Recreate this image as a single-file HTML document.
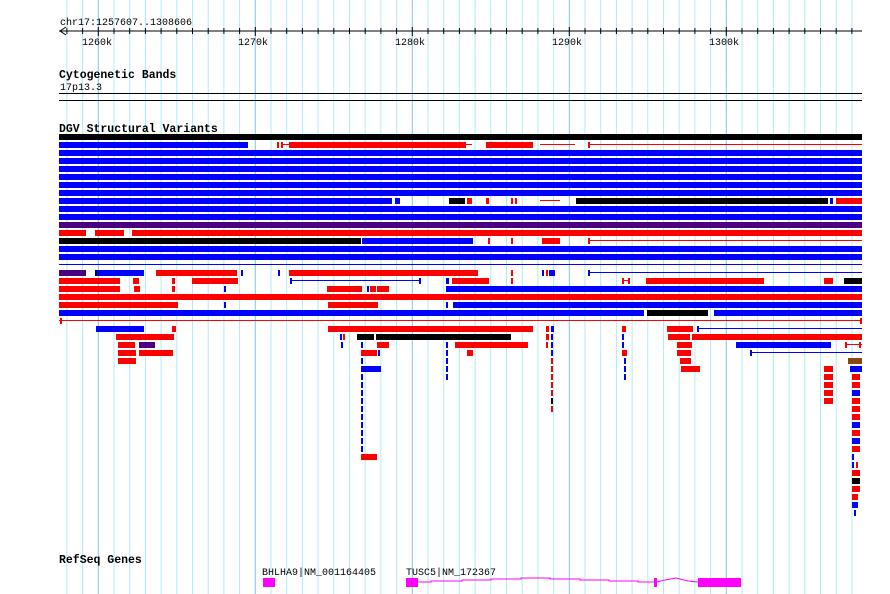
<!DOCTYPE html>
<html><head><meta charset="utf-8"><style>
html,body{margin:0;padding:0;background:#fff;width:890px;height:594px;overflow:hidden}
svg text{font-family:"Liberation Mono",monospace;fill:#000}
</style></head><body>
<svg id="s" width="890" height="594" xmlns="http://www.w3.org/2000/svg">
<g id="grid"></g>
<text x="60" y="25" font-size="10">chr17:1257607..1308606</text>
<line x1="59" y1="31" x2="862" y2="31" stroke="#000"/>
<polyline points="66,27 60,31 66,35" fill="none" stroke="#000"/>
<g id="ticks"></g>
<text x="82" y="45" font-size="10">1260k</text>
<text x="238" y="45" font-size="10">1270k</text>
<text x="395" y="45" font-size="10">1280k</text>
<text x="552" y="45" font-size="10">1290k</text>
<text x="709" y="45" font-size="10">1300k</text>
<text x="59" y="78" font-size="11.5" font-weight="bold">Cytogenetic Bands</text>
<text x="60" y="90" font-size="10">17p13.3</text>
<line x1="59" y1="93.5" x2="862" y2="93.5" stroke="#000"/>
<line x1="59" y1="100.5" x2="862" y2="100.5" stroke="#000"/>
<text x="59" y="132" font-size="11.5" font-weight="bold">DGV Structural Variants</text>
<g id="rows"></g>
<text x="59" y="563" font-size="11.5" font-weight="bold">RefSeq Genes</text>
<text x="262" y="575" font-size="10">BHLHA9|NM_001164405</text>
<text x="406" y="575" font-size="10">TUSC5|NM_172367</text>
<rect x="263" y="578" width="12" height="9" fill="#f0f"/>
<rect x="406" y="578" width="12" height="9" fill="#f0f"/>
<polyline points="418,582 431,582 431,581 462,581 462,580 491,580 491,579 521,579 521,578 550,578 550,579 580,579 580,580 609,580 609,581 638,581 638,582 654,582" fill="none" stroke="#f0f"/>
<rect x="654" y="578" width="3" height="9" fill="#f0f"/>
<polyline points="657,582 665,580 676,578 688,581 698,582" fill="none" stroke="#f0f"/>
<rect x="698" y="578" width="43" height="9" fill="#f0f"/>
</svg>
<script>
var NS="http://www.w3.org/2000/svg";
function el(p,t,a){var e=document.createElementNS(NS,t);for(var k in a)e.setAttribute(k,a[k]);document.getElementById(p).appendChild(e);}
for(var i=-3;i<60;i++){var x=98.3+i*15.7;if(x<55||x>865)continue;var maj=(i%10===0);
el("grid","line",{x1:x,y1:0,x2:x,y2:594,stroke:maj?"#7ec8e8":"#b0ecf0","stroke-width":1});
el("ticks","line",{x1:x,y1:maj?27:28,x2:x,y2:maj?36:34,stroke:"#000"});}
var C={b:"#0000ff",r:"#ff0000",k:"#000",p:"#4b0082",n:"#8b4513"};
// rows: [y, [[color,x1,x2],...]] ; color with 'L' = thin line
var R=[
[134,[["k",59,862]]],
[142,[["b",59,248],["r",277,279],["r",281,283],["rL",283,289],["r",289,466],["rL",466,472],["r",486,533],["rL",540,575],["r",588,590],["rL",588,862]]],
[150,[["b",59,862]]],[158,[["b",59,862]]],[166,[["b",59,862]]],[174,[["b",59,862]]],[182,[["b",59,862]]],[190,[["b",59,862]]],
[198,[["b",59,392],["b",395,400],["k",449,465],["r",467,472],["r",486,489],["r",511,513],["r",515,517],["rL",540,560],["r",576,828],["k",576,828],["b",830,833],["r",836,862]]],
[206,[["b",59,862]]],[214,[["b",59,862]]],[222,[["p",59,862]]],
[230,[["r",59,86],["r",95,124],["r",132,862]]],
[238,[["k",59,361],["b",362,473],["r",488,490],["r",511,513],["r",542,560],["r",588,590],["rL",588,862]]],
[246,[["b",59,862]]],[254,[["b",59,862]]],
[262,[["bL",59,862]]],
[270,[["p",59,86],["k",95,97],["b",97,144],["r",156,237],["b",241,243],["b",278,280],["r",289,478],["r",511,513],["b",542,544],["r",546,548],["b",549,555],["b",588,590],["bL",588,862]]],
[278,[["r",59,120],["r",133,139],["r",172,175],["r",192,238],["b",290,292],["bL",290,421],["b",419,421],["b",446,449],["r",452,489],["r",511,513],["rL",622,630],["r",622,624],["r",628,630],["r",646,764],["r",824,833],["k",844,862]]],
[286,[["r",59,120],["r",134,140],["r",172,175],["b",224,226],["r",327,362],["b",367,369],["r",370,376],["r",377,389],["b",446,862]]],
[294,[["r",59,862]]],
[302,[["r",59,178],["b",224,226],["r",328,378],["b",446,448],["b",453,862]]],
[310,[["b",59,644],["k",647,708],["b",714,862]]],
[318,[["rL",59,862],["r",60,62],["r",860,862]]],
[326,[["b",96,144],["r",172,176],["r",328,533],["r",546,549],["b",551,554],["r",622,626],["r",667,693],["b",697,699],["bL",697,862]]],
[334,[["r",116,174],["b",340,342],["r",343,345],["k",357,374],["k",376,511],["r",546,549],["b",551,553],["b",622,624],["r",668,690],["r",692,862]]],
[342,[["r",118,135],["p",139,155],["b",341,343],["b",361,363],["r",377,389],["b",446,448],["r",455,528],["r",546,548],["b",551,553],["b",622,624],["r",677,692],["b",736,831],["rL",845,862],["r",845,847],["r",859,861]]],
[350,[["r",118,136],["r",139,173],["r",361,377],["b",378,380],["b",446,448],["r",467,473],["b",551,553],["r",622,627],["r",677,691],["b",750,752],["bL",750,862]]],
[358,[["r",118,136],["b",361,363],["b",446,448],["r",551,553],["b",624,626],["r",680,691],["n",848,862]]],
[366,[["b",361,381],["b",446,448],["r",551,553],["b",624,626],["r",681,700],["r",824,833],["b",850,862]]],
[374,[["b",361,363],["b",446,448],["r",551,553],["b",624,626],["r",824,833],["r",852,860]]],
[382,[["b",361,363],["r",551,553],["r",824,833],["r",852,860]]],
[390,[["b",361,363],["r",551,553],["r",824,833],["b",852,860]]],
[398,[["b",361,363],["k",551,553],["r",824,833],["r",852,860]]],
[406,[["b",361,363],["r",551,553],["r",852,860]]],
[414,[["b",361,363],["r",852,860]]],
[422,[["b",361,363],["b",852,860]]],
[430,[["b",361,363],["r",852,860]]],
[438,[["b",361,363],["b",852,860]]],
[446,[["b",361,363],["r",852,860]]],
[454,[["r",361,377],["b",852,854]]],
[462,[["b",852,854],["r",856,858]]],
[470,[["r",852,860]]],
[478,[["k",852,860]]],
[486,[["r",852,860]]],
[494,[["r",852,858]]],
[502,[["b",852,858]]],
[510,[["b",854,856]]]
];
R.forEach(function(r){var y=r[0];r[1].forEach(function(s){var c=s[0];
if(c.length>1&&c[1]==="L"){el("rows","rect",{x:s[1],y:y+2,width:s[2]-s[1],height:1,fill:C[c[0]]});}
else el("rows","rect",{x:s[1],y:y,width:Math.max(2,s[2]-s[1]),height:6,fill:C[c]});});});
</script>
</body></html>
